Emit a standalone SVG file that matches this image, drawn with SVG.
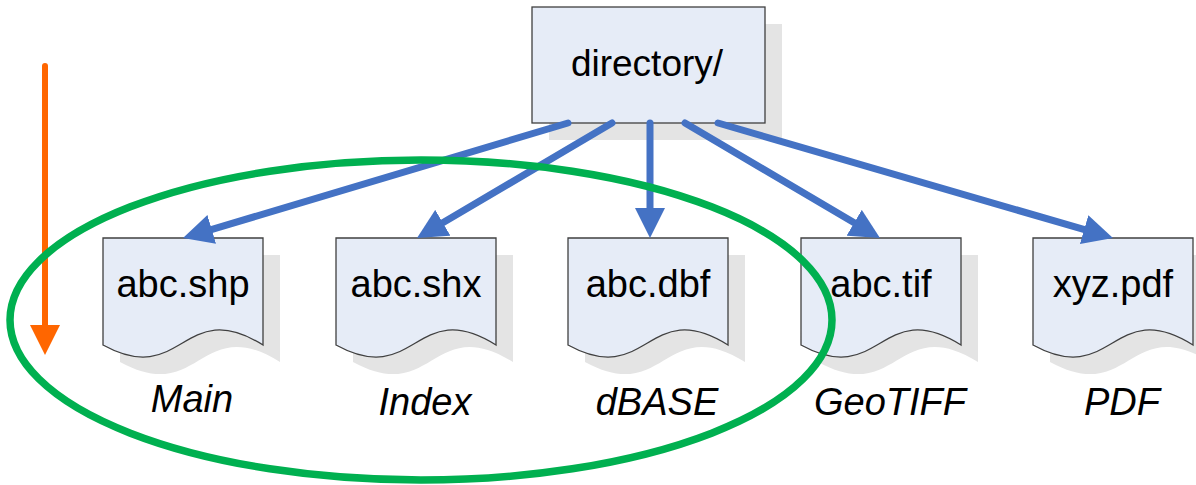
<svg xmlns="http://www.w3.org/2000/svg" width="1196" height="485" viewBox="0 0 1196 485">
<defs>
<style>
.box{fill:#E6ECF7;stroke:#404040;stroke-width:1.3}
.shadow{fill:#E4E4E4;stroke:none}
.t{font-family:"Liberation Sans",Arial,sans-serif;font-size:38px;fill:#000;text-anchor:middle}
.d{font-size:37px}
.it{font-style:italic}
.conn{stroke:#4472C4;stroke-width:7;stroke-linecap:round;fill:none}
</style>
<marker id="ah" markerUnits="userSpaceOnUse" viewBox="0 0 30 30" markerWidth="30" markerHeight="30" refX="4" refY="15" orient="auto">
<path d="M0,0 L30,15 L0,30 Z" fill="#4472C4"/>
</marker>
<marker id="ao" markerUnits="userSpaceOnUse" viewBox="0 0 30 30" markerWidth="30" markerHeight="30" refX="3" refY="15" orient="auto">
<path d="M0,0 L30,15 L0,30 Z" fill="#FF6600"/>
</marker>
<path id="doc" d="M0,0 H160 V107 C80,57 80,151 0,107 Z"/>
</defs>
<rect width="1196" height="485" fill="#fff"/>

<g id="directory">
<rect class="shadow" x="549" y="24" width="233" height="116"/>
<rect class="box" x="532" y="7" width="233" height="116"/>
<text class="t d" x="647" y="76">directory/</text>
</g>

<g id="shp">
<use href="#doc" x="120" y="255" class="shadow"/>
<use href="#doc" x="103" y="238" class="box"/>
<text class="t" x="183" y="297">abc.shp</text>
<text class="t it" x="192" y="412">Main</text>
</g>
<g id="shx">
<use href="#doc" x="353" y="255" class="shadow"/>
<use href="#doc" x="336" y="238" class="box"/>
<text class="t" x="416" y="297">abc.shx</text>
<text class="t it" x="425" y="415">Index</text>
</g>
<g id="dbf">
<use href="#doc" x="585" y="255" class="shadow"/>
<use href="#doc" x="568" y="238" class="box"/>
<text class="t" x="648" y="297">abc.dbf</text>
<text class="t it" x="657" y="415">dBASE</text>
</g>
<g id="tif">
<use href="#doc" x="818" y="255" class="shadow"/>
<use href="#doc" x="801" y="238" class="box"/>
<text class="t" x="881" y="297">abc.tif</text>
<text class="t it" x="890" y="415">GeoTIFF</text>
</g>
<g id="pdf">
<use href="#doc" x="1050" y="255" class="shadow"/>
<use href="#doc" x="1033" y="238" class="box"/>
<text class="t" x="1113" y="297">xyz.pdf</text>
<text class="t it" x="1122" y="415">PDF</text>
</g>

<g id="connectors">
<line class="conn" x1="568" y1="123" x2="207.9" y2="230.6" marker-end="url(#ah)"/>
<line class="conn" x1="612" y1="123" x2="439.4" y2="224.8" marker-end="url(#ah)"/>
<line class="conn" x1="650" y1="123" x2="650" y2="212" marker-end="url(#ah)"/>
<line class="conn" x1="685" y1="123" x2="857.6" y2="224.8" marker-end="url(#ah)"/>
<line class="conn" x1="718" y1="123" x2="1088" y2="230.7" marker-end="url(#ah)"/>
</g>

<g id="orange-arrow">
<line x1="45" y1="66" x2="45" y2="328" stroke="#FF6600" stroke-width="6" stroke-linecap="round" marker-end="url(#ao)"/>
</g>

<g id="group-ellipse">
<ellipse cx="421" cy="320" rx="411" ry="160" fill="none" stroke="#00B050" stroke-width="7.5"/>
</g>
</svg>
